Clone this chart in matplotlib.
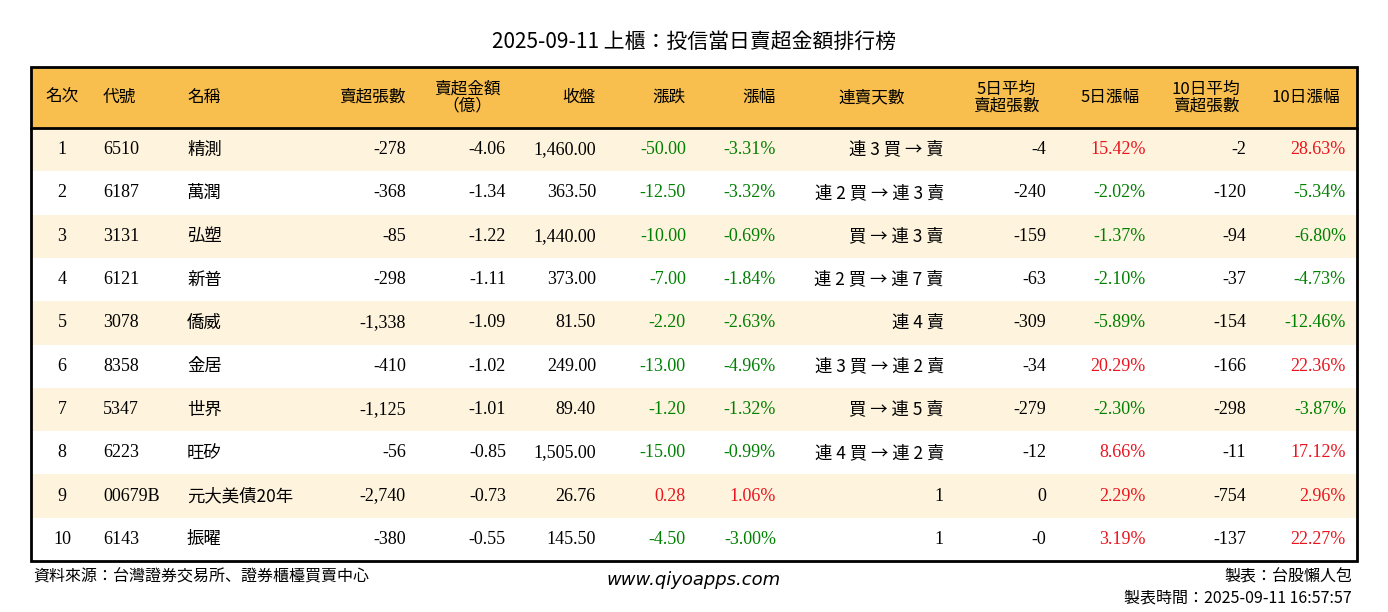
import matplotlib
matplotlib.use("Agg")
import matplotlib.pyplot as plt
from matplotlib.patches import Rectangle
from matplotlib import font_manager

title = "2025-09-11 上櫃：投信當日賣超金額排行榜"
headers = ["名次", "代號", "名稱", "賣超張數", "賣超金額\n（億）", "收盤", "漲跌", "漲幅", "連賣天數",
           "5日平均\n賣超張數", "5日漲幅", "10日平均\n賣超張數", "10日漲幅"]
ranks = [1, 2, 3, 4, 5, 6, 7, 8, 9, 10]
codes = ["6510", "6187", "3131", "6121", "3078", "8358", "5347", "6223", "00679B", "6143"]
names = ["精測", "萬潤", "弘塑", "新普", "僑威", "金居", "世界", "旺矽", "元大美債20年", "振曜"]
net_sell = ["-278", "-368", "-85", "-298", "-1,338", "-410", "-1,125", "-56", "-2,740", "-380"]
amount = ["-4.06", "-1.34", "-1.22", "-1.11", "-1.09", "-1.02", "-1.01", "-0.85", "-0.73", "-0.55"]
close = ["1,460.00", "363.50", "1,440.00", "373.00", "81.50", "249.00", "89.40", "1,505.00", "26.76", "145.50"]
change = ["-50.00", "-12.50", "-10.00", "-7.00", "-2.20", "-13.00", "-1.20", "-15.00", "0.28", "-4.50"]
pct = ["-3.31%", "-3.32%", "-0.69%", "-1.84%", "-2.63%", "-4.96%", "-1.32%", "-0.99%", "1.06%", "-3.00%"]
streak = ["連 3 買 → 賣", "連 2 買 → 連 3 賣", "買 → 連 3 賣", "連 2 買 → 連 7 賣", "連 4 賣",
          "連 3 買 → 連 2 賣", "買 → 連 5 賣", "連 4 買 → 連 2 賣", "1", "1"]
avg5 = ["-4", "-240", "-159", "-63", "-309", "-34", "-279", "-12", "0", "-0"]
pct5 = ["15.42%", "-2.02%", "-1.37%", "-2.10%", "-5.89%", "20.29%", "-2.30%", "8.66%", "2.29%", "3.19%"]
avg10 = ["-2", "-120", "-94", "-37", "-154", "-166", "-298", "-11", "-754", "-137"]
pct10 = ["28.63%", "-5.34%", "-6.80%", "-4.73%", "-12.46%", "22.36%", "-3.87%", "17.12%", "2.96%", "22.27%"]

SERIF = "Liberation Serif"
names_avail = {f.name for f in font_manager.fontManager.ttflist}
CJK = next((n for n in ["Noto Sans CJK TC", "Noto Sans CJK JP", "Noto Sans CJK SC"] if n in names_avail), "DejaVu Sans")
GREEN, RED = "#008000", "#e8141e"

def fam(s):
    return SERIF if all(ord(c) < 128 for c in s) else CJK

fig = plt.figure(figsize=(13.88, 6.12), dpi=100)
ax = fig.add_axes([0, 0, 1, 1])
ax.set_xlim(0, 1388); ax.set_ylim(612, 0); ax.axis("off")

L, R, T, HB, B = 31, 1357, 67, 128, 561
rh = (B - HB) / 10
ax.add_patch(Rectangle((L, T), R - L, HB - T, facecolor="#F8BF4F", edgecolor="none"))
for i in range(10):
    if i % 2 == 0:
        ax.add_patch(Rectangle((L, HB + i * rh), R - L, rh, facecolor="#FEF3DC", edgecolor="none"))
ax.add_patch(Rectangle((L, T), R - L, B - T, facecolor="none", edgecolor="black", lw=2))
ax.plot([L, R], [HB, HB], color="black", lw=2)

ax.text(694, 42, title, ha="center", va="center", fontsize=15, family=CJK)

cols = [(62, "center", 62, "center"), (103, "left", 103, "left"), (187, "left", 187, "left"),
        (406, "right", 406, "right"), (506, "right", 467, "center"), (596, "right", 596, "right"),
        (686, "right", 686, "right"), (776, "right", 776, "right"), (944, "right", 872, "center"),
        (1046, "right", 1006, "center"), (1146, "right", 1110, "center"), (1246, "right", 1206, "center"),
        (1346, "right", 1306, "center")]
for (x, a, hx, ha), h in zip(cols, headers):
    ax.text(hx, (T + HB) / 2, h, ha=ha, va="center", fontsize=12, family=CJK, linespacing=0.95)

def col(v):
    if v.startswith("-"):
        return GREEN if v.strip("-0.%") else "black"
    return RED

for i in range(10):
    y = HB + (i + 0.5) * rh
    vals = [str(ranks[i]), codes[i], names[i], net_sell[i], amount[i], close[i], change[i], pct[i],
            streak[i], avg5[i], pct5[i], avg10[i], pct10[i]]
    colors = ["black"] * 13
    for j in (6, 7, 10, 12):
        colors[j] = col(vals[j])
    for (x, a, _, _), v, c in zip(cols, vals, colors):
        f = fam(v)
        ax.text(x, y, v, ha=a, va="center", fontsize=13 if f == SERIF else 12.5, family=f, color=c)

ax.text(33, 577, "資料來源：台灣證券交易所、證券櫃檯買賣中心", ha="left", va="center", fontsize=11.5, family=CJK)
ax.text(694, 580, "www.qiyoapps.com", ha="center", va="center", fontsize=13, family="DejaVu Sans", style="italic")
ax.text(1352, 577, "製表：台股懶人包", ha="right", va="center", fontsize=11.5, family=CJK)
ax.text(1352, 598, "製表時間：2025-09-11 16:57:57", ha="right", va="center", fontsize=11.5, family=CJK)

fig.savefig("out.png", dpi=100)
